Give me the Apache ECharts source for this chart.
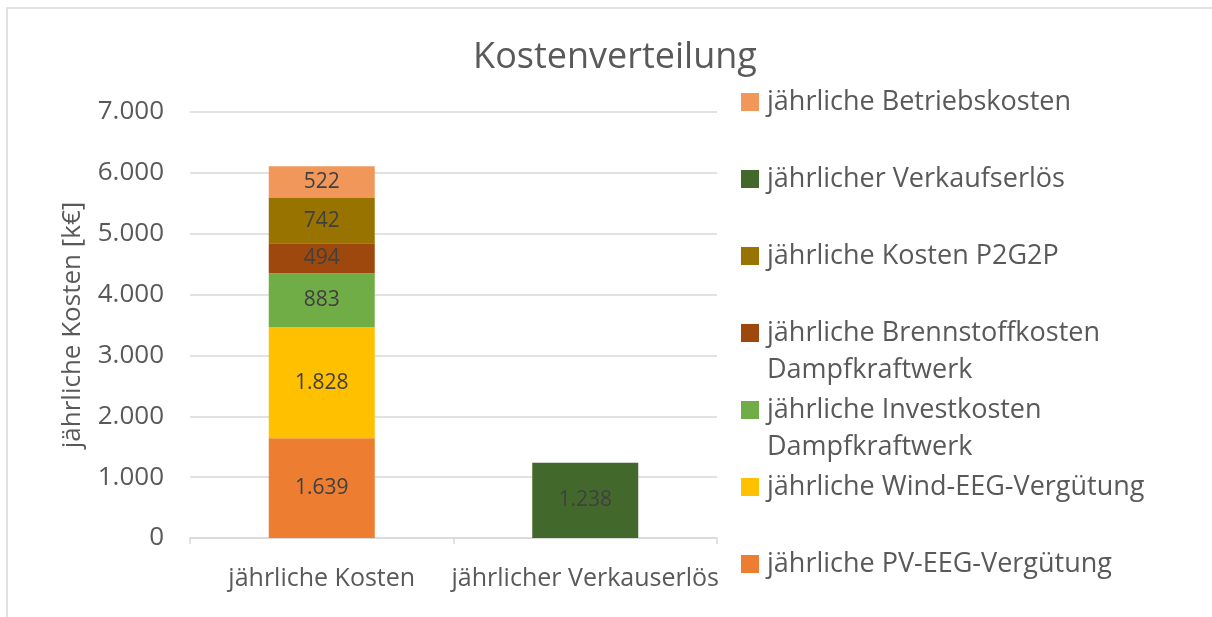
<!DOCTYPE html>
<html>
<head>
<meta charset="utf-8">
<title>Kostenverteilung</title>
<script src="https://cdn.jsdelivr.net/npm/echarts@6/dist/echarts.min.js"></script>
<style>
  html, body { margin: 0; padding: 0; background: #fff; }
  #main { width: 1212px; height: 617px; }
</style>
</head>
<body>
<div id="main"></div>
<script>
// Kategorien und Werte (k€)
var categories = ["jährliche Kosten", "jährlicher Verkauserlös"];
var pvEeg = [1639, "-"];
var windEeg = [1828, "-"];
var investDkw = [883, "-"];
var brennstoffDkw = [494, "-"];
var p2g2p = [742, "-"];
var verkaufserloes = ["-", 1238];
var betrieb = [522, "-"];
var yTicks = [0, 1000, 2000, 3000, 4000, 5000, 6000, 7000];

var seriesNames = [
  "jährliche PV-EEG-Vergütung",
  "jährliche Wind-EEG-Vergütung",
  "jährliche Investkosten Dampfkraftwerk",
  "jährliche Brennstoffkosten Dampfkraftwerk",
  "jährliche Kosten P2G2P",
  "jährlicher Verkaufserlös",
  "jährliche Betriebskosten"
];
var seriesData = [pvEeg, windEeg, investDkw, brennstoffDkw, p2g2p, verkaufserloes, betrieb];
var colors = ["#ED7D31", "#FFC000", "#70AD47", "#9E480E", "#997300", "#43682B", "#F1975A"];

var FONT = "Open Sans";
var TXT = "#595959";

// Tausenderpunkt
function fmt(v) {
  return String(v).replace(/\B(?=(\d{3})+(?!\d))/g, ".");
}

var chart = echarts.init(document.getElementById("main"));

var series = seriesNames.map(function (name, i) {
  return {
    name: name,
    type: "bar",
    stack: "gesamt",
    barWidth: 106,
    data: seriesData[i],
    itemStyle: { color: colors[i] },
    label: {
      show: true,
      position: "inside",
      color: "#404040",
      fontFamily: FONT,
      fontSize: 21,
      formatter: function (p) { return fmt(p.value); }
    }
  };
});

var option = {
  animation: false,
  textStyle: { fontFamily: FONT },
  title: {
    text: "Kostenverteilung",
    left: 610,
    top: 35,
    textAlign: "center",
    textStyle: { color: TXT, fontSize: 36, fontWeight: "normal", fontFamily: FONT }
  },
  legend: {
    orient: "vertical",
    left: 741,
    top: 87,
    padding: 0,
    itemWidth: 18,
    itemHeight: 18,
    itemGap: 47,
    icon: "rect",
    data: seriesNames.slice().reverse(),
    formatter: function (name) {
      return name.replace(" Dampfkraftwerk", "");
    },
    textStyle: { color: TXT, fontSize: 27, fontFamily: FONT, lineHeight: 30, padding: [0, 0, 0, 3] }
  },
  graphic: [
    {
      type: "rect",
      shape: { x: 7, y: 8, width: 1220, height: 630 },
      style: { fill: "none", stroke: "#d9d9d9", lineWidth: 1.5 },
      silent: true
    },
    {
      type: "text", left: 767, top: 357,
      style: { text: "Dampfkraftwerk", fill: TXT, font: "27px '" + FONT + "'" }
    },
    {
      type: "text", left: 767, top: 434,
      style: { text: "Dampfkraftwerk", fill: TXT, font: "27px '" + FONT + "'" }
    }
  ],
  grid: { left: 190, right: 495, top: 112, bottom: 79 },
  xAxis: {
    type: "category",
    data: categories,
    axisLine: { lineStyle: { color: "#d9d9d9", width: 1.5 } },
    axisTick: { show: true, length: 6, lineStyle: { color: "#d9d9d9", width: 1.5 } },
    axisLabel: { color: TXT, fontSize: 25, fontFamily: FONT, margin: 28, interval: 0, hideOverlap: false }
  },
  yAxis: {
    type: "value",
    min: yTicks[0],
    max: yTicks[yTicks.length - 1],
    interval: 1000,
    name: "jährliche Kosten [k€]",
    nameLocation: "middle",
    nameGap: 104,
    nameTextStyle: { color: TXT, fontSize: 26, fontFamily: FONT },
    axisLine: { show: false },
    axisTick: { show: false },
    splitLine: { lineStyle: { color: "#d9d9d9", width: 1.5 } },
    axisLabel: { color: TXT, fontSize: 26, fontFamily: FONT, margin: 26, formatter: fmt }
  },
  series: series
};

chart.setOption(option);
</script>
</body>
</html>
